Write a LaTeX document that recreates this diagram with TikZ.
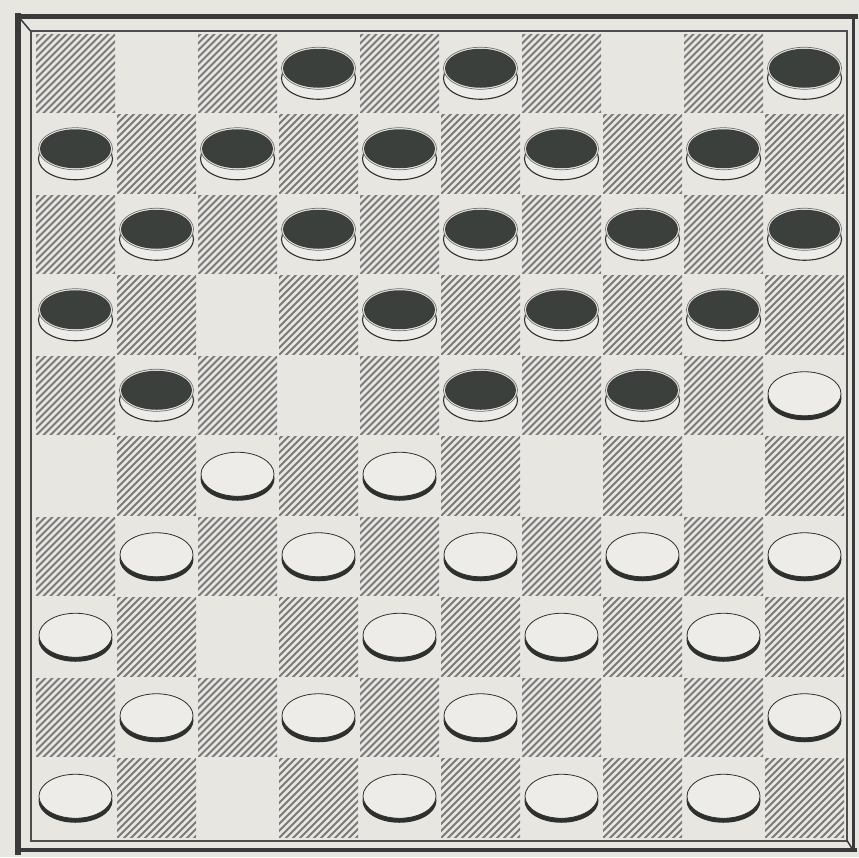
\documentclass[tikz,border=0pt]{standalone}
\definecolor{paper}{HTML}{E8E6E1}
\definecolor{hatch}{HTML}{7A7A7A}
\definecolor{ink}{HTML}{2E302E}
\definecolor{blackpc}{HTML}{3C403C}
\definecolor{whitepc}{HTML}{EDECE8}
\definecolor{frame}{HTML}{3A3A3A}
\tikzset{
  bpc/.pic={
    \draw[ink, line width=1.1, fill=whitepc] (0,5) ellipse [x radius=37, y radius=21];
    \draw[ink!70, line width=0.7, fill=whitepc] (0,-5) ellipse [x radius=37, y radius=21];
    \fill[blackpc] (0,-5) ellipse [x radius=35.5, y radius=19.5];
  },
  wpc/.pic={
    \fill[ink] (0,3) ellipse [x radius=37, y radius=22];
    \draw[ink, line width=0.8, fill=whitepc] (0,-1.5) ellipse [x radius=36.5, y radius=22];
  },
  hatchline/.style={hatch, line width=2},
  framethick/.style={frame, line cap=rect}
}
\begin{document}
\begin{tikzpicture}[x=1pt,y=-1pt]
\useasboundingbox (0,0) rectangle (859,857);
\fill[paper] (0,0) rectangle (859,857);
% hatched squares
\foreach \r in {0,...,9}{
  \foreach \c in {0,...,9}{
    \pgfmathtruncatemacro{\pp}{mod(\r+\c,2)}
    \ifnum\pp=0
      \begin{scope}
        \clip ({35+81*\c+1},{33+80.5*\r+1}) rectangle ++(79,78.5);
        \foreach \k in {-12,...,12}
          \draw[hatchline] ({35+81*\c+7*\k},{33+80.5*(\r+1)+1}) -- ++(84,-84);
      \end{scope}
    \fi
  }
}
% black pieces
\foreach \r/\c in {0/3,0/5,0/9,1/0,1/2,1/4,1/6,1/8,2/1,2/3,2/5,2/7,2/9,3/0,3/4,3/6,3/8,4/1,4/5,4/7}
  \pic at ({75.5+81*\c},{73.25+80.5*\r}) {bpc};
% white pieces
\foreach \r/\c in {4/9,5/2,5/4,6/1,6/3,6/5,6/7,6/9,7/0,7/4,7/6,7/8,8/1,8/3,8/5,8/9,9/0,9/4,9/6,9/8}
  \pic at ({75.5+81*\c},{73.25+80.5*\r}) {wpc};
% frame
\draw[frame!90, line width=2] (30.5,31) rectangle (847,840.5);
\draw[framethick, line width=5] (18,16) -- (855,16);
\draw[framethick, line width=6] (18,16) -- (18,852);
\draw[framethick, line width=3] (853,16) -- (853,850);
\draw[framethick, line width=4] (18,850) -- (855,850);
\draw[frame, line width=1.5] (18,16) -- (30.5,31);
\draw[frame, line width=1.5] (847,840.5) -- (853,850);
\end{tikzpicture}
\end{document}
